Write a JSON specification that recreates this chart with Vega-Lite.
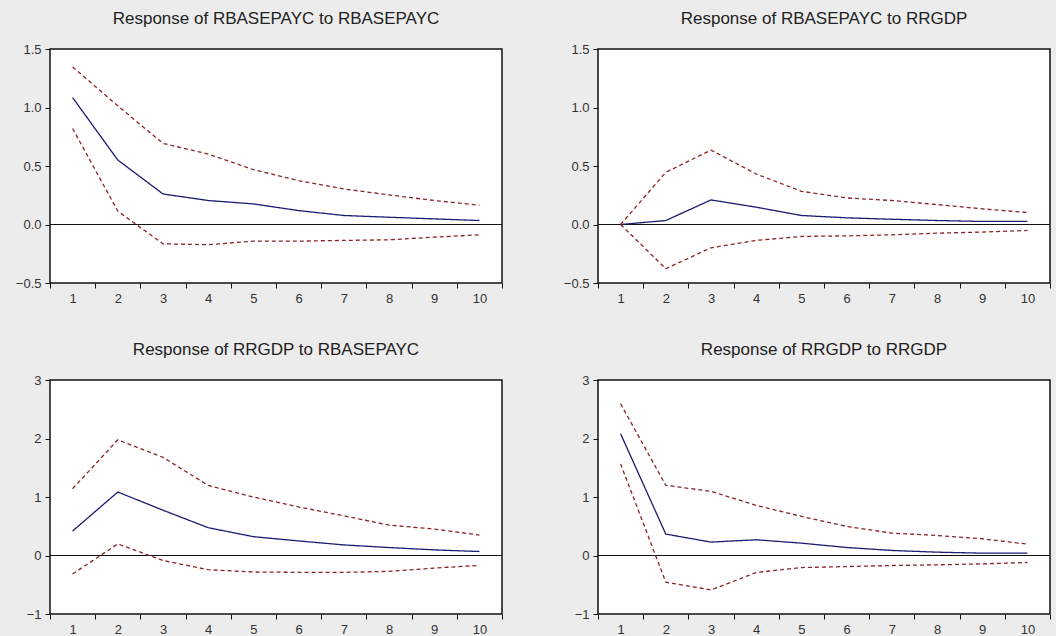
{
  "$schema": "https://vega.github.io/schema/vega-lite/v6.json",
  "background": "#ececec",
  "padding": {"left": 14, "top": 9, "right": 4, "bottom": 0},
  "config": {
    "font": "Liberation Sans",
    "view": {"stroke": "#111111", "strokeWidth": 1.5, "fill": "white"},
    "title": {"fontSize": 17, "fontWeight": "normal", "color": "#222222", "offset": 15, "baseline": "alphabetic", "anchor": "middle"},
    "axis": {"domain": false, "grid": false, "tickColor": "#111111", "tickSize": 5, "labelFontSize": 13, "labelColor": "#333333", "title": null, "labelPadding": 4}
  },
  "spacing": {"row": 34, "column": 58},
  "columns": 2,
  "datasets": {
    "irf": [
      {"panel": "A", "h": 1, "s": "resp", "v": 1.085}, {"panel": "A", "h": 2, "s": "resp", "v": 0.551}, {"panel": "A", "h": 3, "s": "resp", "v": 0.261}, {"panel": "A", "h": 4, "s": "resp", "v": 0.205}, {"panel": "A", "h": 5, "s": "resp", "v": 0.176}, {"panel": "A", "h": 6, "s": "resp", "v": 0.119}, {"panel": "A", "h": 7, "s": "resp", "v": 0.077}, {"panel": "A", "h": 8, "s": "resp", "v": 0.062}, {"panel": "A", "h": 9, "s": "resp", "v": 0.048}, {"panel": "A", "h": 10, "s": "resp", "v": 0.034},
      {"panel": "A", "h": 1, "s": "hi", "v": 1.347}, {"panel": "A", "h": 2, "s": "hi", "v": 1.014}, {"panel": "A", "h": 3, "s": "hi", "v": 0.693}, {"panel": "A", "h": 4, "s": "hi", "v": 0.602}, {"panel": "A", "h": 5, "s": "hi", "v": 0.469}, {"panel": "A", "h": 6, "s": "hi", "v": 0.375}, {"panel": "A", "h": 7, "s": "hi", "v": 0.304}, {"panel": "A", "h": 8, "s": "hi", "v": 0.253}, {"panel": "A", "h": 9, "s": "hi", "v": 0.205}, {"panel": "A", "h": 10, "s": "hi", "v": 0.165},
      {"panel": "A", "h": 1, "s": "lo", "v": 0.821}, {"panel": "A", "h": 2, "s": "lo", "v": 0.114}, {"panel": "A", "h": 3, "s": "lo", "v": -0.165}, {"panel": "A", "h": 4, "s": "lo", "v": -0.173}, {"panel": "A", "h": 5, "s": "lo", "v": -0.142}, {"panel": "A", "h": 6, "s": "lo", "v": -0.142}, {"panel": "A", "h": 7, "s": "lo", "v": -0.136}, {"panel": "A", "h": 8, "s": "lo", "v": -0.131}, {"panel": "A", "h": 9, "s": "lo", "v": -0.108}, {"panel": "A", "h": 10, "s": "lo", "v": -0.088},
      {"panel": "B", "h": 1, "s": "resp", "v": 0.0}, {"panel": "B", "h": 2, "s": "resp", "v": 0.034}, {"panel": "B", "h": 3, "s": "resp", "v": 0.21}, {"panel": "B", "h": 4, "s": "resp", "v": 0.148}, {"panel": "B", "h": 5, "s": "resp", "v": 0.077}, {"panel": "B", "h": 6, "s": "resp", "v": 0.057}, {"panel": "B", "h": 7, "s": "resp", "v": 0.045}, {"panel": "B", "h": 8, "s": "resp", "v": 0.034}, {"panel": "B", "h": 9, "s": "resp", "v": 0.026}, {"panel": "B", "h": 10, "s": "resp", "v": 0.026},
      {"panel": "B", "h": 1, "s": "hi", "v": 0.0}, {"panel": "B", "h": 2, "s": "hi", "v": 0.446}, {"panel": "B", "h": 3, "s": "hi", "v": 0.636}, {"panel": "B", "h": 4, "s": "hi", "v": 0.432}, {"panel": "B", "h": 5, "s": "hi", "v": 0.284}, {"panel": "B", "h": 6, "s": "hi", "v": 0.227}, {"panel": "B", "h": 7, "s": "hi", "v": 0.205}, {"panel": "B", "h": 8, "s": "hi", "v": 0.17}, {"panel": "B", "h": 9, "s": "hi", "v": 0.134}, {"panel": "B", "h": 10, "s": "hi", "v": 0.102},
      {"panel": "B", "h": 1, "s": "lo", "v": 0.0}, {"panel": "B", "h": 2, "s": "lo", "v": -0.378}, {"panel": "B", "h": 3, "s": "lo", "v": -0.199}, {"panel": "B", "h": 4, "s": "lo", "v": -0.136}, {"panel": "B", "h": 5, "s": "lo", "v": -0.102}, {"panel": "B", "h": 6, "s": "lo", "v": -0.097}, {"panel": "B", "h": 7, "s": "lo", "v": -0.088}, {"panel": "B", "h": 8, "s": "lo", "v": -0.074}, {"panel": "B", "h": 9, "s": "lo", "v": -0.065}, {"panel": "B", "h": 10, "s": "lo", "v": -0.051},
      {"panel": "C", "h": 1, "s": "resp", "v": 0.418}, {"panel": "C", "h": 2, "s": "resp", "v": 1.085}, {"panel": "C", "h": 3, "s": "resp", "v": 0.774}, {"panel": "C", "h": 4, "s": "resp", "v": 0.475}, {"panel": "C", "h": 5, "s": "resp", "v": 0.322}, {"panel": "C", "h": 6, "s": "resp", "v": 0.249}, {"panel": "C", "h": 7, "s": "resp", "v": 0.181}, {"panel": "C", "h": 8, "s": "resp", "v": 0.136}, {"panel": "C", "h": 9, "s": "resp", "v": 0.096}, {"panel": "C", "h": 10, "s": "resp", "v": 0.068},
      {"panel": "C", "h": 1, "s": "hi", "v": 1.141}, {"panel": "C", "h": 2, "s": "hi", "v": 1.977}, {"panel": "C", "h": 3, "s": "hi", "v": 1.678}, {"panel": "C", "h": 4, "s": "hi", "v": 1.198}, {"panel": "C", "h": 5, "s": "hi", "v": 1.0}, {"panel": "C", "h": 6, "s": "hi", "v": 0.83}, {"panel": "C", "h": 7, "s": "hi", "v": 0.678}, {"panel": "C", "h": 8, "s": "hi", "v": 0.52}, {"panel": "C", "h": 9, "s": "hi", "v": 0.452}, {"panel": "C", "h": 10, "s": "hi", "v": 0.35},
      {"panel": "C", "h": 1, "s": "lo", "v": -0.316}, {"panel": "C", "h": 2, "s": "lo", "v": 0.198}, {"panel": "C", "h": 3, "s": "lo", "v": -0.085}, {"panel": "C", "h": 4, "s": "lo", "v": -0.243}, {"panel": "C", "h": 5, "s": "lo", "v": -0.282}, {"panel": "C", "h": 6, "s": "lo", "v": -0.288}, {"panel": "C", "h": 7, "s": "lo", "v": -0.288}, {"panel": "C", "h": 8, "s": "lo", "v": -0.271}, {"panel": "C", "h": 9, "s": "lo", "v": -0.215}, {"panel": "C", "h": 10, "s": "lo", "v": -0.169},
      {"panel": "D", "h": 1, "s": "resp", "v": 2.08}, {"panel": "D", "h": 2, "s": "resp", "v": 0.366}, {"panel": "D", "h": 3, "s": "resp", "v": 0.229}, {"panel": "D", "h": 4, "s": "resp", "v": 0.269}, {"panel": "D", "h": 5, "s": "resp", "v": 0.211}, {"panel": "D", "h": 6, "s": "resp", "v": 0.137}, {"panel": "D", "h": 7, "s": "resp", "v": 0.086}, {"panel": "D", "h": 8, "s": "resp", "v": 0.057}, {"panel": "D", "h": 9, "s": "resp", "v": 0.04}, {"panel": "D", "h": 10, "s": "resp", "v": 0.04},
      {"panel": "D", "h": 1, "s": "hi", "v": 2.594}, {"panel": "D", "h": 2, "s": "hi", "v": 1.2}, {"panel": "D", "h": 3, "s": "hi", "v": 1.097}, {"panel": "D", "h": 4, "s": "hi", "v": 0.857}, {"panel": "D", "h": 5, "s": "hi", "v": 0.669}, {"panel": "D", "h": 6, "s": "hi", "v": 0.497}, {"panel": "D", "h": 7, "s": "hi", "v": 0.383}, {"panel": "D", "h": 8, "s": "hi", "v": 0.343}, {"panel": "D", "h": 9, "s": "hi", "v": 0.286}, {"panel": "D", "h": 10, "s": "hi", "v": 0.194},
      {"panel": "D", "h": 1, "s": "lo", "v": 1.566}, {"panel": "D", "h": 2, "s": "lo", "v": -0.457}, {"panel": "D", "h": 3, "s": "lo", "v": -0.589}, {"panel": "D", "h": 4, "s": "lo", "v": -0.291}, {"panel": "D", "h": 5, "s": "lo", "v": -0.206}, {"panel": "D", "h": 6, "s": "lo", "v": -0.189}, {"panel": "D", "h": 7, "s": "lo", "v": -0.171}, {"panel": "D", "h": 8, "s": "lo", "v": -0.16}, {"panel": "D", "h": 9, "s": "lo", "v": -0.143}, {"panel": "D", "h": 10, "s": "lo", "v": -0.12}
    ]
  },
  "concat": [
    {
      "title": "Response of RBASEPAYC to RBASEPAYC",
      "width": 452, "height": 234,
      "data": {"name": "irf"},
      "transform": [{"filter": "datum.panel === 'A'"}],
      "layer": [
        {"mark": {"type": "rule", "color": "#111111", "strokeWidth": 1.2}, "encoding": {"y": {"datum": 0, "type": "quantitative", "scale": {"domain": [-0.5, 1.5], "nice": false, "zero": false}}}},
        {"mark": {"type": "line", "strokeWidth": 1.3},
         "encoding": {
           "x": {"field": "h", "type": "ordinal", "sort": [1,2,3,4,5,6,7,8,9,10], "scale": {"type": "band", "paddingInner": 0, "paddingOuter": 0}, "axis": {"labelAngle": 0, "tickBand": "extent", "tickExtra": true, "labelPadding": 4}},
           "y": {"field": "v", "type": "quantitative", "scale": {"domain": [-0.5, 1.5], "nice": false, "zero": false}, "axis": {"values": [-0.5, 0, 0.5, 1, 1.5], "format": ".1f"}},
           "detail": {"field": "s"},
           "color": {"field": "s", "type": "nominal", "scale": {"domain": ["resp", "hi", "lo"], "range": ["#1c1c72", "#8b2323", "#8b2323"]}, "legend": null},
           "strokeDash": {"field": "s", "type": "nominal", "scale": {"domain": ["resp", "hi", "lo"], "range": [[1, 0], [4, 3], [4, 3]]}, "legend": null}
         }}
      ]
    },
    {
      "title": "Response of RBASEPAYC to RRGDP",
      "width": 452, "height": 234,
      "data": {"name": "irf"},
      "transform": [{"filter": "datum.panel === 'B'"}],
      "layer": [
        {"mark": {"type": "rule", "color": "#111111", "strokeWidth": 1.2}, "encoding": {"y": {"datum": 0, "type": "quantitative", "scale": {"domain": [-0.5, 1.5], "nice": false, "zero": false}}}},
        {"mark": {"type": "line", "strokeWidth": 1.3},
         "encoding": {
           "x": {"field": "h", "type": "ordinal", "sort": [1,2,3,4,5,6,7,8,9,10], "scale": {"type": "band", "paddingInner": 0, "paddingOuter": 0}, "axis": {"labelAngle": 0, "tickBand": "extent", "tickExtra": true, "labelPadding": 4}},
           "y": {"field": "v", "type": "quantitative", "scale": {"domain": [-0.5, 1.5], "nice": false, "zero": false}, "axis": {"values": [-0.5, 0, 0.5, 1, 1.5], "format": ".1f"}},
           "detail": {"field": "s"},
           "color": {"field": "s", "type": "nominal", "scale": {"domain": ["resp", "hi", "lo"], "range": ["#1c1c72", "#8b2323", "#8b2323"]}, "legend": null},
           "strokeDash": {"field": "s", "type": "nominal", "scale": {"domain": ["resp", "hi", "lo"], "range": [[1, 0], [4, 3], [4, 3]]}, "legend": null}
         }}
      ]
    },
    {
      "title": "Response of RRGDP to RBASEPAYC",
      "width": 452, "height": 234,
      "data": {"name": "irf"},
      "transform": [{"filter": "datum.panel === 'C'"}],
      "layer": [
        {"mark": {"type": "rule", "color": "#111111", "strokeWidth": 1.2}, "encoding": {"y": {"datum": 0, "type": "quantitative", "scale": {"domain": [-1, 3], "nice": false, "zero": false}}}},
        {"mark": {"type": "line", "strokeWidth": 1.3},
         "encoding": {
           "x": {"field": "h", "type": "ordinal", "sort": [1,2,3,4,5,6,7,8,9,10], "scale": {"type": "band", "paddingInner": 0, "paddingOuter": 0}, "axis": {"labelAngle": 0, "tickBand": "extent", "tickExtra": true, "labelPadding": 4}},
           "y": {"field": "v", "type": "quantitative", "scale": {"domain": [-1, 3], "nice": false, "zero": false}, "axis": {"values": [-1, 0, 1, 2, 3], "format": "d"}},
           "detail": {"field": "s"},
           "color": {"field": "s", "type": "nominal", "scale": {"domain": ["resp", "hi", "lo"], "range": ["#1c1c72", "#8b2323", "#8b2323"]}, "legend": null},
           "strokeDash": {"field": "s", "type": "nominal", "scale": {"domain": ["resp", "hi", "lo"], "range": [[1, 0], [4, 3], [4, 3]]}, "legend": null}
         }}
      ]
    },
    {
      "title": "Response of RRGDP to RRGDP",
      "width": 452, "height": 234,
      "data": {"name": "irf"},
      "transform": [{"filter": "datum.panel === 'D'"}],
      "layer": [
        {"mark": {"type": "rule", "color": "#111111", "strokeWidth": 1.2}, "encoding": {"y": {"datum": 0, "type": "quantitative", "scale": {"domain": [-1, 3], "nice": false, "zero": false}}}},
        {"mark": {"type": "line", "strokeWidth": 1.3},
         "encoding": {
           "x": {"field": "h", "type": "ordinal", "sort": [1,2,3,4,5,6,7,8,9,10], "scale": {"type": "band", "paddingInner": 0, "paddingOuter": 0}, "axis": {"labelAngle": 0, "tickBand": "extent", "tickExtra": true, "labelPadding": 4}},
           "y": {"field": "v", "type": "quantitative", "scale": {"domain": [-1, 3], "nice": false, "zero": false}, "axis": {"values": [-1, 0, 1, 2, 3], "format": "d"}},
           "detail": {"field": "s"},
           "color": {"field": "s", "type": "nominal", "scale": {"domain": ["resp", "hi", "lo"], "range": ["#1c1c72", "#8b2323", "#8b2323"]}, "legend": null},
           "strokeDash": {"field": "s", "type": "nominal", "scale": {"domain": ["resp", "hi", "lo"], "range": [[1, 0], [4, 3], [4, 3]]}, "legend": null}
         }}
      ]
    }
  ]
}
